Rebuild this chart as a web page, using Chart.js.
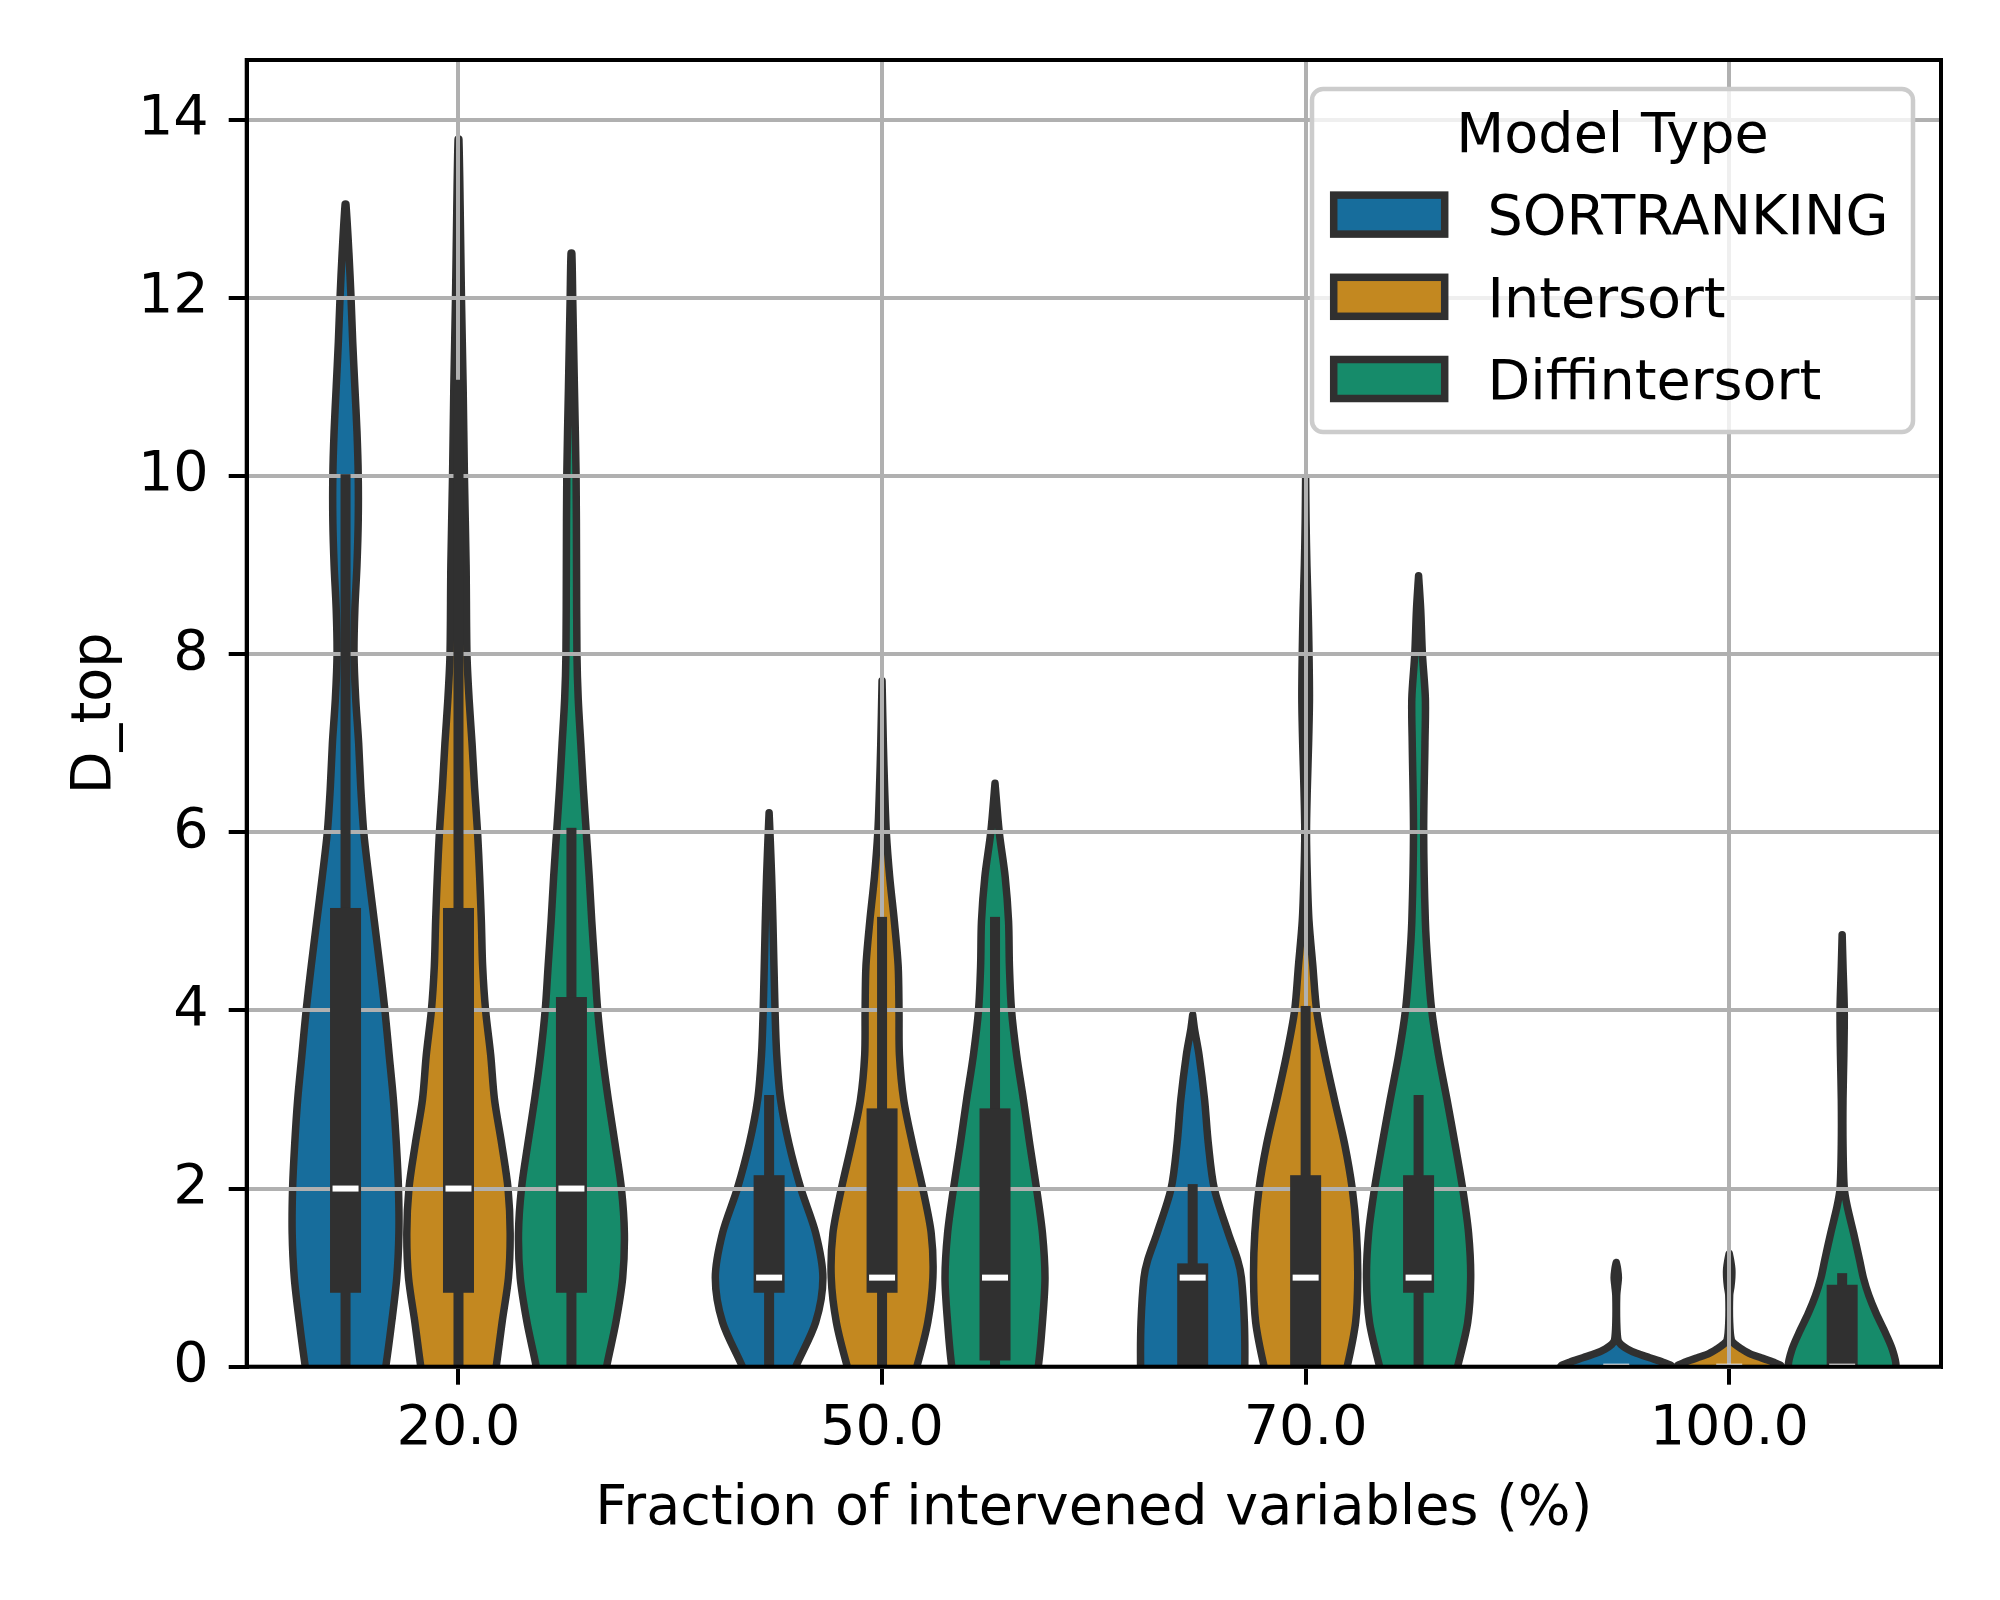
<!DOCTYPE html>
<html>
<head>
<meta charset="utf-8">
<script src="https://cdn.jsdelivr.net/npm/chart.js@4.4.1/dist/chart.umd.min.js"></script>
<style>
  html, body { margin: 0; padding: 0; background: #fff; }
  canvas { display: block; }
</style>
</head>
<body>
<canvas id="chart" width="2000" height="1600"></canvas>
<script>
// axis categories / legend entries
const categories = ['20.0', '50.0', '70.0', '100.0'];
const models = ['SORTRANKING', 'Intersort', 'Diffintersort'];
const modelColors = ['#176d9c', '#c38820', '#168b6a'];
const catTicks = [0, 1, 2, 3];
const yTicks = [0, 2, 4, 6, 8, 10, 12, 14];

// violin outlines: [D_top, half width in category units]
const sortranking20 = [[-0.5,0.078],[0,0.095],[0.5,0.109],[1,0.121],[1.5,0.126],[2,0.125],[2.5,0.120],[3,0.113],[3.5,0.103],[4,0.093],[4.5,0.081],[5,0.068],[5.5,0.055],[6,0.043],[6.5,0.036],[7,0.031],[7.5,0.024],[8,0.020],[8.5,0.022],[9,0.027],[9.5,0.030],[10,0.030],[10.5,0.027],[11,0.022],[11.5,0.017],[12,0.013],[12.5,0.008],[13.05,0.001]];
const intersort20 = [[-0.5,0.072],[0,0.089],[0.5,0.103],[1,0.118],[1.5,0.122],[2,0.117],[2.5,0.102],[3,0.085],[3.5,0.076],[4,0.064],[4.5,0.057],[5,0.054],[5.5,0.050],[6,0.045],[6.5,0.038],[7,0.032],[7.5,0.025],[8,0.020],[9,0.018],[10,0.014],[11,0.011],[12,0.007],[13,0.004],[13.78,0.001]];
const diffintersort20 = [[-0.5,0.065],[0,0.083],[0.5,0.105],[1,0.121],[1.5,0.125],[2,0.118],[2.5,0.103],[3,0.087],[3.5,0.073],[4,0.062],[4.5,0.055],[5,0.048],[5.5,0.042],[6,0.035],[6.5,0.028],[7,0.022],[7.5,0.016],[8,0.013],[9,0.012],[10,0.011],[11,0.007],[12,0.003],[12.5,0.001]];

const sortranking50 = [[-0.4,0.030],[0,0.063],[0.5,0.110],[1,0.127],[1.5,0.110],[2,0.075],[2.5,0.047],[3,0.027],[3.5,0.018],[4,0.014],[5,0.009],[5.5,0.006],[6,0.002],[6.22,0.0]];
const intersort50 = [[-0.4,0.055],[0,0.082],[0.5,0.108],[1,0.120],[1.5,0.116],[2,0.096],[2.5,0.072],[3,0.051],[3.5,0.041],[4,0.040],[4.5,0.038],[5,0.029],[5.5,0.018],[6,0.010],[6.5,0.006],[7,0.003],[7.7,0.0]];
const diffintersort50 = [[-0.4,0.085],[0,0.102],[0.5,0.112],[1,0.118],[1.5,0.112],[2,0.098],[2.5,0.082],[3,0.067],[3.5,0.051],[4,0.039],[4.5,0.034],[5,0.032],[5.5,0.024],[6,0.010],[6.55,0.0]];

const sortranking70 = [[-0.4,0.120],[0,0.123],[0.5,0.122],[1,0.115],[1.2,0.106],[1.5,0.084],[2,0.051],[2.5,0.037],[3,0.028],[3.5,0.015],[3.8,0.004],[3.95,0.0]];
const intersort70 = [[-0.4,0.075],[0,0.098],[0.5,0.118],[1,0.123],[1.5,0.120],[2,0.110],[2.5,0.092],[3,0.068],[3.5,0.045],[4,0.026],[4.5,0.017],[5,0.008],[5.5,0.004],[6,0.002],[6.5,0.004],[7,0.007],[7.5,0.009],[8,0.008],[8.5,0.006],[9,0.003],[9.5,0.001],[9.98,0.0]];
const diffintersort70 = [[-0.4,0.070],[0,0.092],[0.5,0.116],[1,0.123],[1.5,0.118],[2,0.104],[2.5,0.086],[3,0.067],[3.5,0.047],[4,0.031],[4.5,0.022],[5,0.016],[6,0.012],[7,0.015],[7.5,0.016],[8,0.009],[8.5,0.005],[8.88,0.0]];

const sortranking100 = [[-0.2,0.026],[-0.1,0.079],[0,0.131],[0.05,0.110],[0.1,0.079],[0.15,0.048],[0.2,0.026],[0.25,0.011],[0.3,0.004],[0.5,0.001],[0.8,0.001],[0.9,0.003],[1.0,0.005],[1.1,0.003],[1.17,0.0]];
const intersort100 = [[-0.2,0.030],[-0.1,0.075],[0,0.123],[0.05,0.105],[0.1,0.075],[0.15,0.047],[0.2,0.029],[0.25,0.014],[0.3,0.005],[0.5,0.001],[0.8,0.001],[0.9,0.004],[1.0,0.006],[1.1,0.006],[1.2,0.003],[1.27,0.0]];
const diffintersort100 = [[-0.2,0.110],[0,0.127],[0.2,0.118],[0.4,0.100],[0.6,0.080],[0.8,0.063],[1.0,0.050],[1.2,0.041],[1.5,0.027],[1.8,0.012],[2,0.005],[2.5,0.002],[3,0.002],[3.5,0.004],[4,0.005],[4.5,0.002],[4.85,0.0]];

// inner box stats per category
const sortrankingQ1 = [0.83, 0.83, 0, 0];
const sortrankingMedian = [2, 1, 1, 0];
const sortrankingQ3 = [5.15, 2.15, 1.16, 0];
const sortrankingWhiskerLow = [0, 0, 0, 0];
const sortrankingWhiskerHigh = [10.02, 3.05, 2.05, 0];

const intersortQ1 = [0.83, 0.83, 0, 0];
const intersortMedian = [2, 1, 1, 0];
const intersortQ3 = [5.15, 2.9, 2.15, 0];
const intersortWhiskerLow = [0, 0, 0, 0];
const intersortWhiskerHigh = [11.08, 5.05, 4.05, 0];

const diffintersortQ1 = [0.83, 0.07, 0.83, 0];
const diffintersortMedian = [2, 1, 1, 0];
const diffintersortQ3 = [4.15, 2.9, 2.15, 0.92];
const diffintersortWhiskerLow = [0, 0, 0, 0];
const diffintersortWhiskerHigh = [6.05, 5.05, 3.05, 1.05];

const profiles = [
  [sortranking20, sortranking50, sortranking70, sortranking100],
  [intersort20, intersort50, intersort70, intersort100],
  [diffintersort20, diffintersort50, diffintersort70, diffintersort100],
];
const boxQ1 = [sortrankingQ1, intersortQ1, diffintersortQ1];
const boxMedian = [sortrankingMedian, intersortMedian, diffintersortMedian];
const boxQ3 = [sortrankingQ3, intersortQ3, diffintersortQ3];
const whiskerLow = [sortrankingWhiskerLow, intersortWhiskerLow, diffintersortWhiskerLow];
const whiskerHigh = [sortrankingWhiskerHigh, intersortWhiskerHigh, diffintersortWhiskerHigh];

const EDGE = '#303030';
const FONT = '"DejaVu Sans", sans-serif';
const FS = 55.6;
const dodge = 0.8 / 3;
const hueOffset = [-dodge, 0, dodge];

Chart.defaults.font.family = FONT;
Chart.defaults.color = '#000';

// one closed outline per violin (right side up, left side down)
const datasets = [];
profiles.forEach((row, m) => {
  row.forEach((prof, c) => {
    const center = c + hueOffset[m];
    const right = prof.map(([y, w]) => ({x: center + w, y}));
    const left = prof.slice().reverse().map(([y, w]) => ({x: center - w, y}));
    // anchors below the axis so the fill is never cut sideways
    const pts = [{x: center + 0.16, y: -1.5}, ...right, ...left, {x: center - 0.16, y: -1.5}];
    datasets.push({
      label: models[m] + ' ' + categories[c],
      data: pts,
      backgroundColor: modelColors[m],
      borderColor: EDGE,
      borderWidth: 7.5,
      borderJoinStyle: 'round',
      fill: 'shape',
      tension: 0.3,
      capBezierPoints: false,
      pointRadius: 0,
      clip: 0,
    });
  });
});

function roundRectPath(ctx, x, y, w, h, r) {
  ctx.beginPath();
  ctx.moveTo(x + r, y);
  ctx.lineTo(x + w - r, y);
  ctx.arcTo(x + w, y, x + w, y + r, r);
  ctx.lineTo(x + w, y + h - r);
  ctx.arcTo(x + w, y + h, x + w - r, y + h, r);
  ctx.lineTo(x + r, y + h);
  ctx.arcTo(x, y + h, x, y + h - r, r);
  ctx.lineTo(x, y + r);
  ctx.arcTo(x, y, x + r, y, r);
  ctx.closePath();
}

// inner boxes, frame and legend on top of the grid
const overlay = {
  id: 'overlay',
  afterDraw(chart) {
    const {ctx, chartArea: a, scales: {x, y}} = chart;
    ctx.save();
    ctx.beginPath();
    ctx.rect(a.left, a.top, a.right - a.left, a.bottom - a.top);
    ctx.clip();
    models.forEach((name, m) => {
      categories.forEach((cat, c) => {
        const px = x.getPixelForValue(c + hueOffset[m]);
        const wl = y.getPixelForValue(whiskerLow[m][c]);
        const wh = y.getPixelForValue(whiskerHigh[m][c]);
        const q1 = y.getPixelForValue(boxQ1[m][c]);
        const q3 = y.getPixelForValue(boxQ3[m][c]);
        const md = y.getPixelForValue(boxMedian[m][c]);
        ctx.fillStyle = EDGE;
        ctx.fillRect(px - 5, wh, 10, wl - wh);
        ctx.fillRect(px - 15.5, q3, 31, q1 - q3);
        ctx.fillStyle = '#ffffff';
        ctx.fillRect(px - 13, md - 3, 26, 6);
      });
    });
    ctx.restore();

    // spines
    ctx.save();
    ctx.strokeStyle = '#000';
    ctx.lineWidth = 4;
    ctx.strokeRect(a.left, a.top, a.right - a.left, a.bottom - a.top);
    ctx.restore();

    // legend
    ctx.save();
    const lx = 1312, ly = 89, lw = 601, lh = 343;
    roundRectPath(ctx, lx, ly, lw, lh, 11);
    ctx.fillStyle = 'rgba(255,255,255,0.8)';
    ctx.fill();
    ctx.strokeStyle = '#cccccc';
    ctx.lineWidth = 4.5;
    ctx.stroke();
    ctx.fillStyle = '#000';
    ctx.font = FS + 'px ' + FONT;
    ctx.textAlign = 'center';
    ctx.textBaseline = 'alphabetic';
    ctx.fillText('Model Type', lx + lw / 2, 151.7);
    ctx.textAlign = 'left';
    models.forEach((name, i) => {
      const cy = 214.6 + i * 82.2;
      ctx.fillStyle = modelColors[i];
      ctx.fillRect(1333.7, cy - 19.5, 111, 39);
      ctx.strokeStyle = EDGE;
      ctx.lineWidth = 7.5;
      ctx.strokeRect(1333.7, cy - 19.5, 111, 39);
      ctx.fillStyle = '#000';
      ctx.fillText(name, 1487.5, cy + 19.7);
    });
    ctx.restore();
  }
};

new Chart(document.getElementById('chart'), {
  type: 'line',
  data: { datasets },
  plugins: [overlay],
  options: {
    responsive: false,
    animation: false,
    devicePixelRatio: 1,
    events: [],
    layout: { padding: { left: 0, top: 60, right: 59, bottom: 0 } },
    plugins: { legend: { display: false }, tooltip: { enabled: false } },
    scales: {
      x: {
        type: 'linear',
        min: -0.5,
        max: 3.5,
        afterBuildTicks: (s) => { s.ticks = catTicks.map(v => ({value: v})); },
        afterFit: (s) => { s.height = 233.3; },
        ticks: {
          autoSkip: false, maxRotation: 0, padding: 11,
          font: { size: FS }, color: '#000',
          callback: (v, i) => categories[i],
        },
        grid: { z: 1, color: '#b0b0b0', lineWidth: 4, tickLength: 18, tickColor: '#000', tickWidth: 4 },
        border: { z: 1, color: '#000', width: 4 },
        title: {
          display: true, text: 'Fraction of intervened variables (%)',
          font: { size: FS }, color: '#000', padding: { top: 0, bottom: 57 },
        },
      },
      y: {
        type: 'linear',
        min: 0,
        max: 14.67,
        afterBuildTicks: (s) => { s.ticks = yTicks.map(v => ({value: v})); },
        afterFit: (s) => { s.width = 246.7; },
        ticks: {
          autoSkip: false, padding: 20,
          font: { size: FS }, color: '#000',
          callback: (v) => String(v),
        },
        grid: { z: 1, color: '#b0b0b0', lineWidth: 4, tickLength: 18, tickColor: '#000', tickWidth: 4 },
        border: { z: 1, color: '#000', width: 4 },
        title: {
          display: true, text: 'D_top',
          font: { size: FS }, color: '#000', padding: { top: 62, bottom: 0 },
        },
      },
    },
  },
});
</script>
</body>
</html>
